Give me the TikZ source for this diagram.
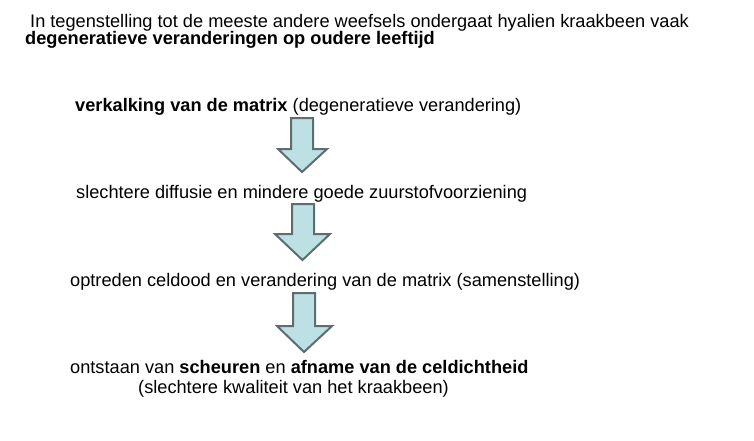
\documentclass[tikz,border=0pt]{standalone}
\usepackage{fontspec}
\setmainfont{Liberation Sans}
\begin{document}
\begin{tikzpicture}[x=1pt,y=-1pt,
  txt/.style={anchor=base west,inner sep=0pt,font=\fontsize{18.2}{21}\selectfont},
  downarrow/.style={fill=arrowfill,draw=arrowline,line width=2pt,line join=miter}]
\definecolor{arrowfill}{HTML}{BDE0E4}
\definecolor{arrowline}{HTML}{5E6E6E}
\useasboundingbox (0,0) rectangle (754,440);
\node[txt] (t1) at (30,27) {In tegenstelling tot de meeste andere weefsels ondergaat hyalien kraakbeen vaak};
\node[txt] (t2) at (25,44.5) {\textbf{degeneratieve veranderingen op oudere leeftijd}};
\node[txt] (s1) at (75,111) {\textbf{verkalking van de matrix} (degeneratieve verandering)};
\node[txt] (s2) at (76,198) {slechtere diffusie en mindere goede zuurstofvoorziening};
\node[txt] (s3) at (70,286) {optreden celdood en verandering van de matrix (samenstelling)};
\node[txt] (s4) at (70,373) {ontstaan van \textbf{scheuren} en \textbf{afname van de celdichtheid}};
\node[txt] (s5) at (138,393) {(slechtere kwaliteit van het kraakbeen)};
% arrows
\draw[downarrow] (291,118) -- (313,118) -- (313,149) -- (327,149) -- (302,172) -- (278,149) -- (291,149) -- cycle;
\draw[downarrow] (292,204) -- (314,204) -- (314,234) -- (330,234) -- (302.5,260) -- (275,234) -- (292,234) -- cycle;
\draw[downarrow] (293,293) -- (315,293) -- (315,326) -- (332,326) -- (304,352) -- (277,326) -- (293,326) -- cycle;
\end{tikzpicture}
\end{document}
